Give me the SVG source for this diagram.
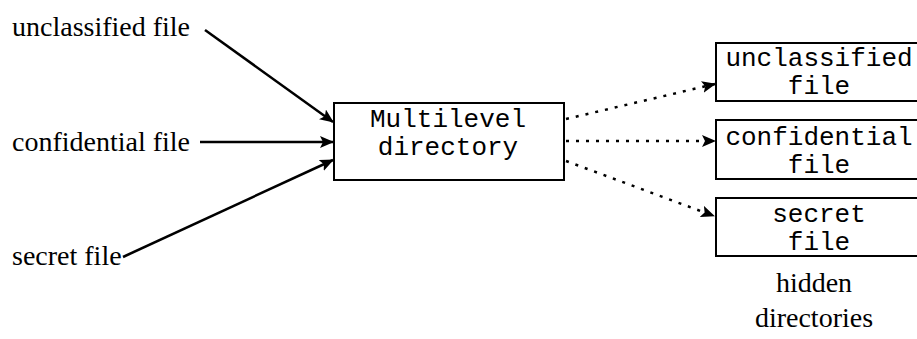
<svg xmlns="http://www.w3.org/2000/svg" width="917" height="339" viewBox="0 0 917 339">
  <style>
    .box { fill: #fff; stroke: #000; stroke-width: 2; }
    .serif { font-family: "Liberation Serif", "Times New Roman", serif; font-size: 28px; fill: #000; }
    .mono { font-family: "Liberation Mono", "Courier New", monospace; font-size: 26px; fill: #000; text-anchor: middle; }
    .solid { stroke: #000; stroke-width: 2.5; fill: none; marker-end: url(#arrow); }
    .dotted { stroke: #000; stroke-width: 2.5; fill: none; stroke-dasharray: 3 7; marker-end: url(#arrow); }
  </style>
  <defs>
    <marker id="arrow" markerUnits="userSpaceOnUse" markerWidth="14" markerHeight="12" refX="13" refY="6" orient="auto">
      <path d="M0,0 L14,6 L0,12 L3,6 z" fill="#000"/>
    </marker>
  </defs>
  <rect width="917" height="339" fill="#fff"/>

  <g id="connectors">
    <line class="solid" x1="205" y1="30" x2="333" y2="122"/>
    <line class="solid" x1="200" y1="142" x2="333" y2="142"/>
    <line class="solid" x1="123" y1="257" x2="333" y2="160"/>
    <line class="dotted" x1="566" y1="119" x2="715" y2="84"/>
    <line class="dotted" x1="566" y1="141" x2="715" y2="141"/>
    <line class="dotted" x1="566" y1="161" x2="714" y2="216"/>
  </g>

  <g id="src-unclassified">
    <text class="serif" x="12" y="36">unclassified file</text>
  </g>
  <g id="src-confidential">
    <text class="serif" x="12" y="151">confidential file</text>
  </g>
  <g id="src-secret">
    <text class="serif" x="12" y="265">secret file</text>
  </g>

  <g id="multilevel">
    <rect class="box" x="334" y="103" width="230" height="77"/>
    <text class="mono" x="448" y="127">Multilevel</text>
    <text class="mono" x="448" y="155">directory</text>
  </g>

  <g id="hidden-unclassified">
    <rect class="box" x="716" y="43" width="206" height="58"/>
    <text class="mono" x="819" y="66">unclassified</text>
    <text class="mono" x="819" y="94">file</text>
  </g>
  <g id="hidden-confidential">
    <rect class="box" x="716" y="120" width="206" height="59"/>
    <text class="mono" x="819" y="145">confidential</text>
    <text class="mono" x="819" y="173">file</text>
  </g>
  <g id="hidden-secret">
    <rect class="box" x="716" y="198" width="206" height="58"/>
    <text class="mono" x="819" y="222">secret</text>
    <text class="mono" x="819" y="250">file</text>
  </g>

  <g id="label-hidden">
    <text class="serif" x="814" y="292" text-anchor="middle">hidden</text>
    <text class="serif" x="814" y="327" text-anchor="middle">directories</text>
  </g>
</svg>
